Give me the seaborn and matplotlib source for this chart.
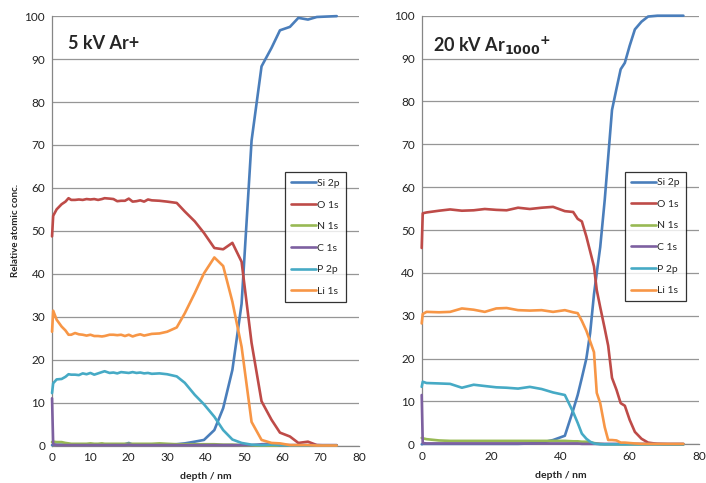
import numpy as np
import pandas as pd
import matplotlib
matplotlib.use("Agg")
import matplotlib.pyplot as plt
import seaborn as sns

# ---------------- data ----------------
elements = ["Si 2p", "O 1s", "N 1s", "C 1s", "P 2p", "Li 1s"]
colors = ["#4A7EBB", "#BE4B48", "#98B954", "#7D60A0", "#46AAC5", "#F79646"]

# Left panel: 5 kV Ar+
depth_a = [0, 0.3, 1.2, 2.5, 3.5, 4.3, 5, 6, 7, 8, 9, 10, 11, 12, 13, 13.7, 15, 16, 17, 18,
           19, 20, 21, 22, 23, 24, 25, 26, 28, 30, 32.5, 34.6, 37.2, 39.6, 42.3, 44.6, 47,
           49.4, 52, 54.6, 57.2, 59.4, 62, 64.2, 66.7, 69, 71.5, 74.2]
si_a = [0.1, 0.2, 0.2, 0.2, 0.2, 0.2, 0.2, 0.2, 0.2, 0.2, 0.2, 0.2, 0.2, 0.2, 0.2, 0.2, 0.2, 0.2, 0.2, 0.2,
        0.3, 0.6, 0.2, 0.2, 0.2, 0.2, 0.2, 0.2, 0.2, 0.2, 0.3, 0.5, 0.9, 1.3, 3.6, 8.7, 17.6,
        33.0, 71.0, 88.3, 92.6, 96.7, 97.5, 99.6, 99.2, 99.8, 99.9, 100.0]
o_a = [48.7, 53.5, 55.0, 56.2, 56.8, 57.6, 57.2, 57.2, 57.3, 57.2, 57.4, 57.3, 57.4, 57.2, 57.4, 57.6, 57.5, 57.4, 56.9, 57.0,
       57.0, 57.5, 56.8, 56.9, 57.1, 56.8, 57.3, 57.1, 57.0, 56.8, 56.5, 54.5, 52.2, 49.5, 46.0, 45.7, 47.2,
       42.8, 23.9, 10.3, 6.0, 3.0, 2.1, 0.6, 0.9, 0.1, 0.0, 0.0]
n_a = [0.8, 0.9, 0.8, 0.8, 0.6, 0.5, 0.4, 0.4, 0.4, 0.4, 0.4, 0.5, 0.4, 0.4, 0.5, 0.4, 0.4, 0.4, 0.4, 0.4,
       0.4, 0.4, 0.4, 0.4, 0.4, 0.4, 0.4, 0.4, 0.5, 0.4, 0.3, 0.3, 0.3, 0.3, 0.3, 0.2, 0.2,
       0.1, 0.0, 0.0, 0.0, 0.0, 0.0, 0.0, 0.0, 0.0, 0.0, 0.0]
c_a = [11.0, 0.3, 0.1, 0.1, 0.1, 0.1, 0.1, 0.1, 0.1, 0.1, 0.1, 0.1, 0.1, 0.1, 0.1, 0.1, 0.1, 0.1, 0.1, 0.1,
       0.1, 0.2, 0.1, 0.1, 0.1, 0.1, 0.1, 0.1, 0.1, 0.1, 0.1, 0.1, 0.1, 0.1, 0.1, 0.1, 0.1,
       0.1, 0.1, 0.3, 0.4, 0.1, 0.1, 0.1, 0.1, 0.1, 0.1, 0.1]
p_a = [12.2, 14.5, 15.4, 15.5, 16.0, 16.6, 16.5, 16.5, 16.4, 16.8, 16.6, 16.9, 16.5, 16.8, 17.1, 17.3, 16.9, 17.0, 16.8, 17.1,
       17.0, 16.9, 17.1, 16.9, 17.0, 16.8, 16.9, 16.7, 16.8, 16.6, 16.1, 14.6, 11.8, 9.6, 6.7, 3.6, 1.4,
       0.6, 0.2, 0.1, 0.2, 0.1, 0.0, 0.0, 0.0, 0.0, 0.0, 0.0]
li_a = [26.5, 31.4, 29.3, 27.7, 26.8, 25.8, 25.8, 26.2, 25.9, 25.8, 25.6, 25.8, 25.5, 25.5, 25.4, 25.5, 25.8, 25.8, 25.7, 25.8,
        25.5, 25.8, 25.4, 25.7, 25.9, 25.6, 25.8, 26.0, 26.1, 26.5, 27.5, 30.8, 35.5, 40.1, 43.8, 41.8, 33.5,
        23.0, 5.5, 1.3, 0.6, 0.5, 0.1, 0.1, 0.1, 0.0, 0.0, 0.0]

# Right panel: 20 kV Ar1000+
depth_b = [0, 0.3, 1.4, 5, 8.2, 11.6, 15, 18.2, 21.5, 24.5, 27.8, 31.2, 34.6, 37.9, 41.3, 43.7, 45,
           46.2, 47.5, 48.6, 49.7, 50.5, 51.5, 52.8, 53.8, 54.9, 56.2, 57.4, 58.6, 60, 61.5, 63.4,
           65.3, 68, 71, 75.5]
si_b = [0.0, 0.1, 0.1, 0.1, 0.1, 0.1, 0.1, 0.1, 0.1, 0.1, 0.1, 0.2, 0.4, 1.0, 2.0, 8.0, 11.5,
        15.5, 20.0, 26.0, 35.0, 40.0, 46.0, 57.0, 67.0, 78.0, 83.0, 87.5, 89.0, 93.0, 96.8, 98.6,
        99.8, 100.0, 100.0, 100.0]
o_b = [45.8, 53.9, 54.1, 54.5, 54.8, 54.5, 54.6, 54.9, 54.7, 54.6, 55.2, 54.9, 55.2, 55.4, 54.4, 54.2, 52.6,
       52.0, 48.5, 45.0, 41.5, 36.0, 32.0, 27.0, 23.0, 15.5, 12.7, 9.6, 9.0, 5.7, 2.9, 1.3,
       0.4, 0.1, 0.0, 0.0]
n_b = [1.5, 1.4, 1.2, 0.9, 0.8, 0.8, 0.8, 0.8, 0.8, 0.8, 0.8, 0.8, 0.8, 0.8, 0.8, 0.7, 0.7,
       0.6, 0.6, 0.5, 0.3, 0.2, 0.1, 0.0, 0.0, 0.0, 0.0, 0.0, 0.0, 0.0, 0.0, 0.0,
       0.0, 0.0, 0.0, 0.0]
c_b = [11.5, 0.3, 0.2, 0.2, 0.2, 0.2, 0.2, 0.2, 0.2, 0.2, 0.2, 0.2, 0.2, 0.2, 0.2, 0.2, 0.2,
       0.1, 0.1, 0.1, 0.1, 0.1, 0.1, 0.1, 0.1, 0.1, 0.1, 0.1, 0.1, 0.1, 0.1, 0.1,
       0.1, 0.1, 0.1, 0.1]
p_b = [13.4, 14.6, 14.3, 14.2, 14.1, 13.2, 13.9, 13.6, 13.3, 13.2, 13.0, 13.4, 12.9, 12.1, 11.5, 7.5, 5.0,
       2.5, 1.3, 0.6, 0.2, 0.1, 0.0, 0.0, 0.0, 0.0, 0.0, 0.0, 0.0, 0.0, 0.0, 0.0,
       0.0, 0.0, 0.0, 0.0]
li_b = [28.2, 30.4, 30.9, 30.8, 30.9, 31.7, 31.4, 30.9, 31.7, 31.8, 31.3, 31.2, 31.3, 30.9, 31.3, 30.8, 30.6,
        28.8, 26.5, 24.0, 21.5, 12.0, 9.6, 4.0, 1.0, 1.0, 0.9, 0.4, 0.4, 0.3, 0.2, 0.1,
        0.1, 0.1, 0.1, 0.1]

x_ticks = [0, 10, 20, 30, 40, 50, 60, 70, 80]
x_ticks_b = [0, 20, 40, 60, 80]
y_ticks = [0, 10, 20, 30, 40, 50, 60, 70, 80, 90, 100]


def long_df(depth, series):
    frames = []
    for name, vals in zip(elements, series):
        frames.append(pd.DataFrame({"depth": depth, "conc": vals, "element": name}))
    return pd.concat(frames, ignore_index=True)


df_a = long_df(depth_a, [si_a, o_a, n_a, c_a, p_a, li_a])
df_b = long_df(depth_b, [si_b, o_b, n_b, c_b, p_b, li_b])

# ---------------- plot ----------------
sns.set_theme(style="white")
plt.rcParams["font.family"] = ["Lato", "DejaVu Sans"]

fig = plt.figure(figsize=(7.06, 4.83), dpi=100)
ax1 = fig.add_axes([0.0737, 0.0776, 0.4348, 0.889])
ax2 = fig.add_axes([0.5973, 0.0801, 0.3928, 0.8874])

palette = dict(zip(elements, colors))

for ax, df, xt, leg_x in [(ax1, df_a, x_ticks, 0.759), (ax2, df_b, x_ticks_b, 0.733)]:
    sns.lineplot(data=df, x="depth", y="conc", hue="element", hue_order=elements,
                 palette=palette, ax=ax, sort=False, estimator=None, linewidth=1.9)
    for ln in ax.get_lines():
        ln.set_clip_on(False)
        ln.set_zorder(3)
    ax.set_xlim(0, 80)
    ax.set_ylim(0, 100)
    ax.set_xticks(xt)
    ax.set_yticks(y_ticks)
    ax.yaxis.grid(True, color="#969696", linewidth=0.9)
    ax.xaxis.grid(False)
    ax.set_axisbelow(True)
    for s in ["top", "right"]:
        ax.spines[s].set_visible(False)
    for s in ["left", "bottom"]:
        ax.spines[s].set_color("#868686")
        ax.spines[s].set_linewidth(0.9)
        ax.spines[s].set_zorder(2)
    ax.tick_params(axis="both", length=0, labelsize=8.5, colors="#222222", pad=5)
    ax.set_xlabel("depth / nm", fontsize=7.5, fontweight="bold", labelpad=6)
    ax.set_ylabel("")
    leg = ax.legend(loc="upper left", bbox_to_anchor=(leg_x, 0.636), frameon=True,
                    fontsize=7.5, labelspacing=1.18, handlelength=2.4, handletextpad=0.1,
                    borderpad=0.6, fancybox=False, borderaxespad=0)
    leg.get_frame().set_edgecolor("black")
    leg.get_frame().set_linewidth(0.9)
    leg.set_zorder(5)
    for line in leg.get_lines():
        line.set_linewidth(1.9)

ax1.set_ylabel("Relative atomic conc.", fontsize=7, fontweight="bold", labelpad=3)
ax1.text(0.052, 0.955, "5 kV Ar+", transform=ax1.transAxes, fontsize=13,
         fontweight="bold", va="top", ha="left")
ax2.text(0.042, 0.955, r"20 kV Ar$_{\mathbf{1000}}$$^{\mathbf{+}}$", transform=ax2.transAxes,
         fontsize=13, fontweight="bold", va="top", ha="left")

fig.savefig("out.png", dpi=100)
